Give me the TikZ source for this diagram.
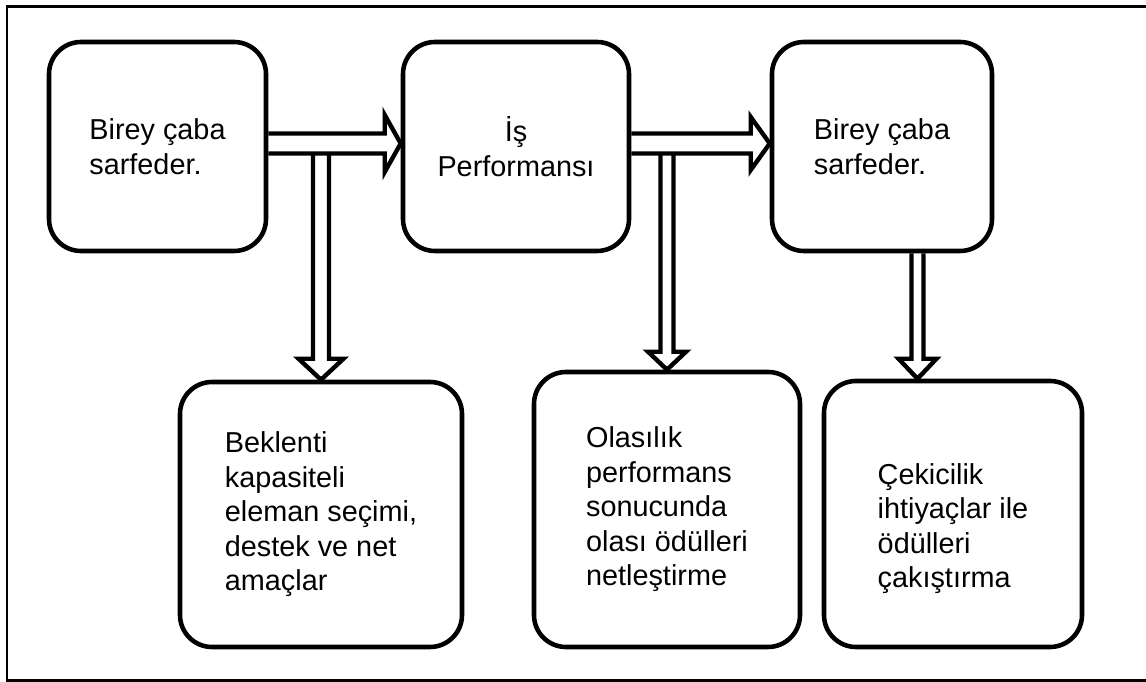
\documentclass[tikz,border=0pt]{standalone}
\usepackage{fontspec}
\setmainfont{Liberation Sans}
\usetikzlibrary{calc}
\tikzset{box/.style={draw,line width=1.3pt,rounded corners=0.32cm,align=left,inner sep=0pt,font=\fontsize{8.2}{9.8}\selectfont},
  flow/.style={line width=1.25pt,line join=miter}}
% hollow block arrows: from, to, shaft half width, head half width, head length
\newcommand{\hflow}[5]{\draw[flow] let \p1=(#1), \p2=(#2) in (\x1,\y1+#3) -- (\x2-#5,\y1+#3) -- (\x2-#5,\y1+#4) -- (\x2,\y1) -- (\x2-#5,\y1-#4) -- (\x2-#5,\y1-#3) -- (\x1,\y1-#3);}
\newcommand{\vflow}[5]{\draw[flow] let \p1=(#1), \p2=(#2) in (\x2-#3,\y1) -- (\x2-#3,\y2+#5) -- (\x2-#4,\y2+#5) -- (\x2,\y2) -- (\x2+#4,\y2+#5) -- (\x2+#3,\y2+#5) -- (\x2+#3,\y1);}

\begin{document}
\begin{tikzpicture}
\useasboundingbox (0,0) rectangle (11.46,-6.82);
\draw[line width=0.85pt] (0.07,-0.07) rectangle (11.6,-6.805);
\node[box,minimum width=2.17cm,minimum height=2.09cm] (E) at (1.575,-1.465) {Birey çaba\\sarfeder.};
\node[box,align=center,minimum width=2.26cm,minimum height=2.09cm] (P) at (5.16,-1.465) {İş\\Performansı};
\node[box,minimum width=2.20cm,minimum height=2.09cm] (E2) at (8.82,-1.465) {Birey çaba\\sarfeder.};
\node[box,minimum width=2.82cm,minimum height=2.65cm] (X) at (3.21,-5.145) {Beklenti\\kapasiteli\\eleman seçimi,\\destek ve net\\amaçlar};
\node[box,minimum width=2.66cm,minimum height=2.75cm] (R) at (6.67,-5.095) {Olasılık\\performans\\sonucunda\\olası ödülleri\\netleştirme};
\node[box,minimum width=2.58cm,minimum height=2.66cm] (A) at (9.53,-5.14) {\rule{0pt}{0.5cm}Çekicilik\\ihtiyaçlar ile\\ödülleri\\çakıştırma};
\coordinate (h1) at ($(E.east)+(0,0.03)$);
\coordinate (j1) at ($(h1)+(0,-0.1)$);
\coordinate (h2) at ($(P.east)+(0,0.03)$);
\coordinate (j2) at ($(h2)+(0,-0.1)$);
\coordinate (m) at ($(E2.south)!.5!(A.north)$);
\hflow{h1}{P.west |- h1}{0.1cm}{0.285cm}{0.16cm}
\vflow{X.north |- j1}{X.north}{0.08cm}{0.225cm}{0.21cm}
\hflow{h2}{E2.west |- h2}{0.1cm}{0.265cm}{0.19cm}
\vflow{R.north |- j2}{R.north}{0.065cm}{0.19cm}{0.18cm}
\vflow{m |- E2.south}{m |- A.north}{0.06cm}{0.19cm}{0.2cm}
\end{tikzpicture}
\end{document}
